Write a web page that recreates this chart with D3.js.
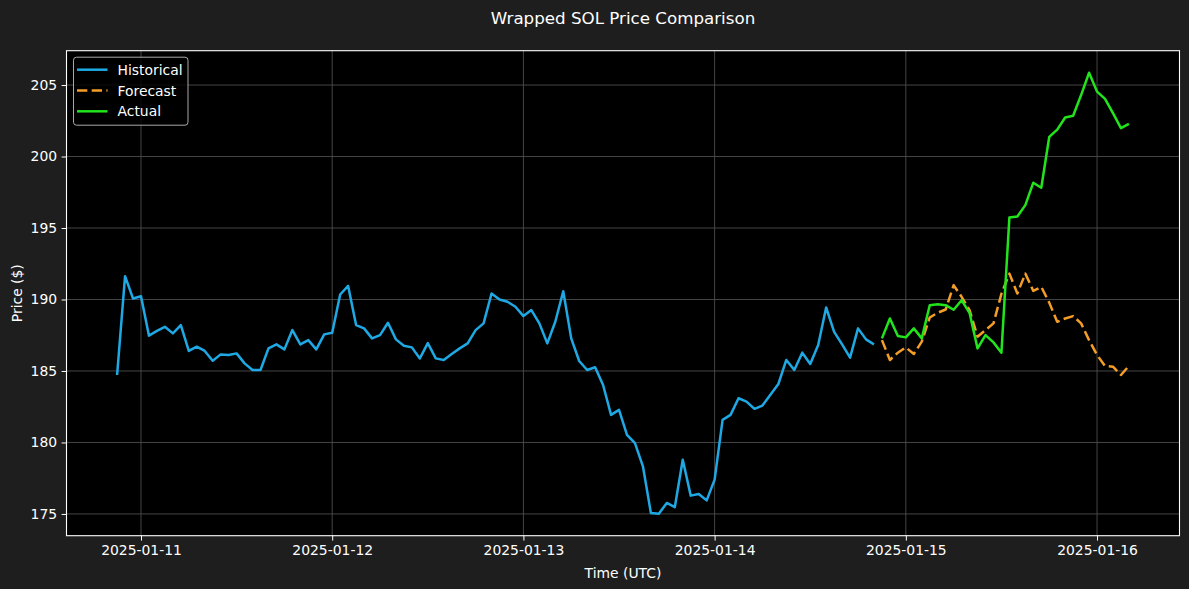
<!DOCTYPE html>
<html>
<head>
<meta charset="utf-8">
<script src="https://cdn.jsdelivr.net/npm/d3@7"></script>
<style>
    html, body { margin: 0; padding: 0; background: #1e1e1e; }
    #chart text { font-family: "DejaVu Sans", sans-serif; fill: #ffffff; }
</style>
</head>
<body>
<div id="chart"></div>
<script>
// hourly series, values
var historicalStart = "2025-01-10T21:00:00Z";
var forecastStart = "2025-01-14T21:00:00Z";

var historicalPrices = [
    184.72, 191.63, 190.07, 190.23, 187.47, 187.80, 188.09, 187.63, 188.21, 186.40,
    186.70, 186.40, 185.72, 186.16, 186.12, 186.23, 185.53, 185.07, 185.07, 186.58,
    186.86, 186.51, 187.86, 186.86, 187.16, 186.51, 187.56, 187.67, 190.35, 190.95,
    188.21, 187.98, 187.28, 187.51, 188.37, 187.21, 186.77, 186.65, 185.88, 186.95,
    185.88, 185.77, 186.19, 186.58, 186.93, 187.86, 188.33, 190.42, 190.00, 189.84,
    189.49, 188.84, 189.26, 188.33, 186.93, 188.44, 190.58, 187.28, 185.70, 185.07,
    185.26, 184.02, 181.93, 182.28, 180.53, 179.95, 178.33, 175.07, 175.02, 175.77,
    175.47, 178.79, 176.28, 176.40, 175.95, 177.40, 181.58, 181.93, 183.09, 182.86,
    182.35, 182.58, 183.33, 184.09, 185.77, 185.07, 186.28, 185.49, 186.81, 189.44,
    187.74, 186.86, 185.93, 187.98, 187.21, 186.86
];

var forecastPrices = [
    187.16, 185.77, 186.28, 186.65, 186.19, 187.05, 188.74, 189.07, 189.30, 191.00,
    190.19, 189.26, 187.40, 187.86, 188.33, 190.40, 191.81, 190.42, 191.81, 190.60,
    190.88, 189.78, 188.44, 188.67, 188.84, 188.33, 187.16, 186.12, 185.35, 185.30,
    184.72, 185.35
];

var actualPrices = [
    187.28, 188.67, 187.44, 187.35, 187.98, 187.28, 189.60, 189.67, 189.60, 189.28,
    189.95, 189.05, 186.58, 187.51, 187.00, 186.28, 195.74, 195.81, 196.60, 198.17,
    197.82, 201.37, 201.88, 202.73, 202.85, 204.30, 205.86, 204.54, 204.03, 203.03,
    201.99, 202.29
];

var seriesLabels = ["Historical", "Forecast", "Actual"];
var yTicks = [175, 180, 185, 190, 195, 200, 205];
var xTickDates = ["2025-01-11", "2025-01-12", "2025-01-13", "2025-01-14", "2025-01-15", "2025-01-16"];

var CHART = {

    selector: '#chart',

    options: {
        width: 1189,
        height: 589,
        margins: { top: 50.7, right: 9.5, bottom: 53.3, left: 66.5 },
        colors: { Historical: "#1ea9e4", Forecast: "#f59e27", Actual: "#22e41c" },
        figBg: "#1e1e1e",
        axBg: "#000000",
        grid: "#4d4d4d"
    },

    toSeries: function(start, values) {
        var t0 = new Date(start);
        return values.map(function(v, i) {
            return { time: d3.utcHour.offset(t0, i), value: v };
        });
    },

    draw: function() {
        var o = this.options;
        var w = o.width - o.margins.left - o.margins.right,
            h = o.height - o.margins.top - o.margins.bottom;

        var data = [
            { label: "Historical", values: this.toSeries(historicalStart, historicalPrices), dash: null },
            { label: "Forecast", values: this.toSeries(forecastStart, forecastPrices), dash: "10.3,4.4" },
            { label: "Actual", values: this.toSeries(forecastStart, actualPrices), dash: null }
        ];

        var all = [];
        data.forEach(function(s) { all = all.concat(s.values); });

        // matplotlib style 5% margins
        var tExt = d3.extent(all, function(d) { return +d.time; });
        var tPad = (tExt[1] - tExt[0]) * 0.05;
        var vExt = d3.extent(all, function(d) { return d.value; });
        var vPad = (vExt[1] - vExt[0]) * 0.05;

        var x = d3.scaleUtc().domain([tExt[0] - tPad, tExt[1] + tPad]).range([0, w]);
        var y = d3.scaleLinear().domain([vExt[0] - vPad, vExt[1] + vPad]).range([h, 0]);

        var svg = d3.select(this.selector).append("svg")
            .attr("xmlns", "http://www.w3.org/2000/svg")
            .attr("width", o.width)
            .attr("height", o.height)
            .style("display", "block");

        svg.append("rect")
            .attr("width", o.width).attr("height", o.height)
            .attr("fill", o.figBg);

        var g = svg.append("g")
            .attr("transform", "translate(" + o.margins.left + "," + o.margins.top + ")");

        g.append("rect")
            .attr("width", w).attr("height", h)
            .attr("fill", o.axBg);

        var xTicks = xTickDates.map(function(s) { return new Date(s + "T00:00:00Z"); });

        // grid
        var grid = g.append("g").attr("class", "grid");
        grid.selectAll("line.gx").data(xTicks).enter().append("line")
            .attr("x1", function(d) { return x(d); }).attr("x2", function(d) { return x(d); })
            .attr("y1", 0).attr("y2", h)
            .attr("stroke", o.grid).attr("stroke-width", 0.9);
        grid.selectAll("line.gy").data(yTicks).enter().append("line")
            .attr("y1", function(d) { return y(d); }).attr("y2", function(d) { return y(d); })
            .attr("x1", 0).attr("x2", w)
            .attr("stroke", o.grid).attr("stroke-width", 0.9);

        var line = d3.line()
            .x(function(d) { return x(d.time); })
            .y(function(d) { return y(d.value); });

        g.append("g").attr("class", "lines")
            .selectAll("path").data(data).enter().append("path")
            .attr("d", function(d) { return line(d.values); })
            .attr("fill", "none")
            .attr("stroke", function(d) { return o.colors[d.label]; })
            .attr("stroke-width", 2.5)
            .attr("stroke-linejoin", "round")
            .attr("stroke-dasharray", function(d) { return d.dash; });

        // axes
        var xAxis = g.append("g")
            .attr("transform", "translate(0," + h + ")")
            .call(d3.axisBottom(x).tickValues(xTicks).tickFormat(d3.utcFormat("%Y-%m-%d"))
                .tickSizeInner(4.9).tickSizeOuter(0).tickPadding(4.5));
        var yAxis = g.append("g")
            .call(d3.axisLeft(y).tickValues(yTicks).tickFormat(d3.format("d"))
                .tickSizeInner(4.9).tickSizeOuter(0).tickPadding(4.5));

        [xAxis, yAxis].forEach(function(ax) {
            ax.select(".domain").remove();
            ax.selectAll(".tick line").attr("stroke", "#ffffff").attr("stroke-width", 1);
            ax.selectAll(".tick text").attr("fill", "#ffffff")
                .style("font-size", "13.9px").style("font-family", "DejaVu Sans, sans-serif");
        });

        // spines
        g.append("rect")
            .attr("width", w).attr("height", h)
            .attr("fill", "none")
            .attr("stroke", "#ffffff")
            .attr("stroke-width", 1.1);

        // labels
        svg.append("text")
            .attr("x", o.margins.left + w / 2).attr("y", 24)
            .attr("text-anchor", "middle")
            .style("font-size", "16.7px")
            .text("Wrapped SOL Price Comparison");

        svg.append("text")
            .attr("x", o.margins.left + w / 2).attr("y", 578)
            .attr("text-anchor", "middle")
            .style("font-size", "13.9px")
            .text("Time (UTC)");

        svg.append("text")
            .attr("transform", "translate(22," + (o.margins.top + h / 2) + ") rotate(-90)")
            .attr("text-anchor", "middle")
            .style("font-size", "13.9px")
            .text("Price ($)");

        // legend
        var legend = g.append("g")
            .attr("class", "legend")
            .attr("transform", "translate(7,6.5)");
        legend.append("rect")
            .attr("width", 114.5).attr("height", 68)
            .attr("rx", 3).attr("ry", 3)
            .attr("fill", "#000000").attr("fill-opacity", 0.8)
            .attr("stroke", "#a8a8a8").attr("stroke-width", 1);

        var items = legend.selectAll("g.item").data(data).enter().append("g")
            .attr("class", "item")
            .attr("transform", function(d, i) { return "translate(0," + (12.5 + i * 20.8) + ")"; });
        items.append("line")
            .attr("x1", 3.5).attr("x2", 34)
            .attr("stroke", function(d) { return o.colors[d.label]; })
            .attr("stroke-width", 2.5)
            .attr("stroke-dasharray", function(d) { return d.dash; });
        items.append("text")
            .attr("x", 44).attr("y", 5)
            .style("font-size", "13.9px")
            .text(function(d, i) { return seriesLabels[i]; });
    }
};

CHART.draw();
</script>
</body>
</html>
